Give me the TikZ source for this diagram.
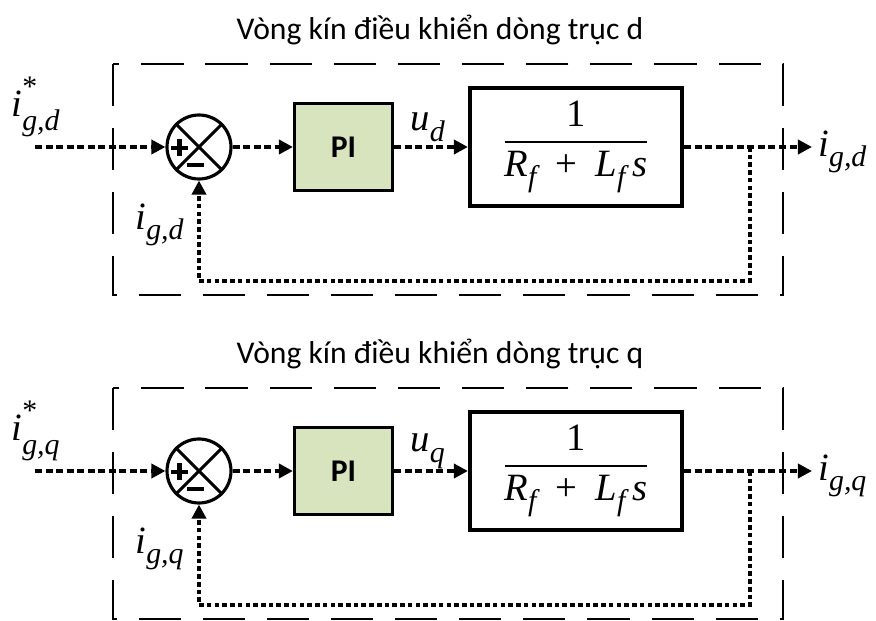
\documentclass[tikz,border=0pt]{standalone}
\usepackage{amsmath}
\usepackage{fontspec}
\setmainfont{Carlito}
\newfontfamily\tnr{Liberation Serif}
\usetikzlibrary{arrows.meta}

% Times-like letters for the math labels
\newcommand{\tv}[1]{\text{\tnr\itshape #1}}
\newcommand{\tn}[1]{\text{\tnr #1}}
% lowered subscripts and raised star, equation-editor look
\newcommand{\lsub}[1]{\text{\raisebox{-3pt}{\tnr\itshape #1}}}
\newcommand{\hstar}{\text{\raisebox{3pt}{\tnr *}}}
\DeclareMathSizes{22}{22}{17}{13}

\definecolor{pigreen}{RGB}{215,228,189}

\tikzset{
  sig/.style={line width=2pt, dash pattern=on 4pt off 2pt,
    -{Triangle[length=8pt,width=8pt]}},
  fb/.style={line width=2pt, dash pattern=on 2.6pt off 1.8pt,
    -{Triangle[length=8pt,width=8pt]}},
  frame/.style={line width=1.3pt, dash pattern=on 24pt off 12.5pt},
  sumnode/.style={circle, draw, line width=1.8pt, minimum size=1.28cm, inner sep=0pt},
  sign/.style={line width=2.4pt},
  pibox/.style={draw, line width=1.8pt, fill=pigreen, minimum width=1.96cm,
    minimum height=1.74cm, font=\fontsize{18}{22}\selectfont\bfseries},
  plant/.style={draw, line width=2.4pt, minimum width=4.24cm, minimum height=2.36cm,
    inner sep=0pt, font=\fontsize{22}{26}\selectfont},
  lbl/.style={inner sep=0pt, font=\fontsize{22}{26}\selectfont},
  title/.style={anchor=base, font=\fontsize{18}{22}\selectfont}
}

\begin{document}
\begin{tikzpicture}[x=0.02cm, y=-0.02cm]
    \useasboundingbox (0,0) rectangle (876,621);

    \foreach \ax/\dy in {d/0, q/324}{
    \begin{scope}[shift={(0,\dy)}]
    % title and frame
    \node[title] (title\ax) at (440,40) {Vòng kín điều khiển dòng trục \ax};
    \draw[frame] (113,64) rectangle (783,295);

    % summing point
    \node[sumnode] (sum\ax) at (199,147) {};
    \draw[line width=1.8pt] (sum\ax.north west) -- (sum\ax.south east)
                            (sum\ax.north east) -- (sum\ax.south west);
    \draw[sign] (171,148) -- (188,148) (179.5,139.5) -- (179.5,156.5);
    \draw[sign] (187,165) -- (204,165);

    % blocks
    \node[pibox] (pi\ax) at (343.5,147) {PI};
    \node[plant] (plant\ax) at (576,147)
        {$\dfrac{\tn{1}}{\tv{R}_{\lsub{f}}\mkern9mu\tn{+}\mkern9mu\tv{L}_{\lsub{f}}\,\tv{s}}$};

    \coordinate (in\ax) at (35,147);
    \coordinate (br\ax) at (750,147);
    \coordinate (out\ax) at (812,147);
    \coordinate (fb\ax) at (750,281);

    % signals
    \draw[sig] (in\ax) -- (sum\ax.west);
    \draw[sig] (sum\ax.east) -- (pi\ax.west);
    \draw[sig] (pi\ax.east) -- (plant\ax.west);
    \draw[sig] (plant\ax.east) -- (out\ax);
    \draw[fb] (br\ax) -- (fb\ax) -| (sum\ax.south);

    % labels
    \node[lbl] (ref\ax) at (36,107) {$\tv{i}^{\hstar}_{\lsub{g,\ax}}$};
    \node[lbl] (u\ax) at (428,127) {$\tv{u}_{\lsub{\ax}}$};
    \node[lbl, anchor=west] (y\ax) at (818,152) {$\tv{i}_{\lsub{g,\ax}}$};
    \node[lbl] (m\ax) at (160,225) {$\tv{i}_{\lsub{g,\ax}}$};
    \end{scope}
    }
\end{tikzpicture}
\end{document}
